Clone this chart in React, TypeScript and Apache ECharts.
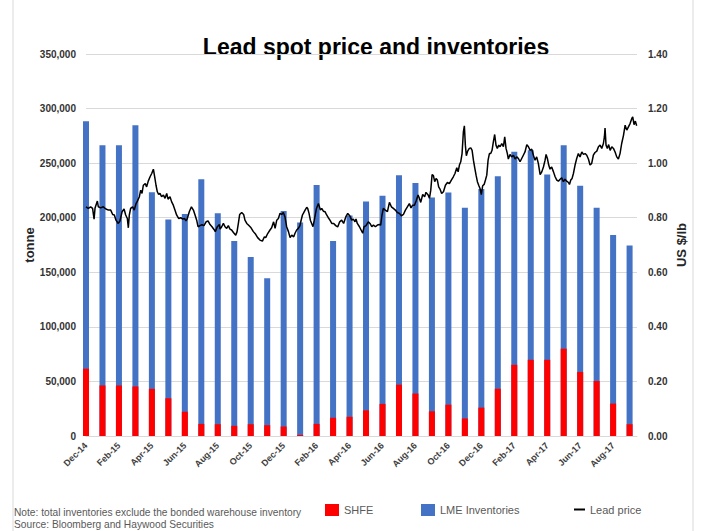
import React, { useEffect, useRef } from 'react';
import * as echarts from 'echarts';

// Monthly bars: Dec-14 .. Sep-17
const barMonths = [
  'Dec-14', 'Jan-15', 'Feb-15', 'Mar-15', 'Apr-15', 'May-15', 'Jun-15', 'Jul-15', 'Aug-15', 'Sep-15',
  'Oct-15', 'Nov-15', 'Dec-15', 'Jan-16', 'Feb-16', 'Mar-16', 'Apr-16', 'May-16', 'Jun-16', 'Jul-16',
  'Aug-16', 'Sep-16', 'Oct-16', 'Nov-16', 'Dec-16', 'Jan-17', 'Feb-17', 'Mar-17', 'Apr-17', 'May-17',
  'Jun-17', 'Jul-17', 'Aug-17', 'Sep-17',
];

// x-axis tick labels (every second month)
const tickLabels = [
  'Dec-14', 'Feb-15', 'Apr-15', 'Jun-15', 'Aug-15', 'Oct-15', 'Dec-15', 'Feb-16', 'Apr-16',
  'Jun-16', 'Aug-16', 'Oct-16', 'Dec-16', 'Feb-17', 'Apr-17', 'Jun-17', 'Aug-17',
];

// SHFE inventories (tonnes)
const shfe = [
  61700, 46300, 46300, 45400, 43200, 34600, 22200, 11100, 10800, 9300,
  10800, 9900, 8700, 1000, 11100, 16700, 17600, 23500, 29400, 47000,
  38900, 22600, 28700, 16100, 26000, 43300, 65200, 69800, 69800, 80000,
  58700, 50400, 29700, 10800,
];

// LME inventories (tonnes)
const lme = [
  226700, 220200, 220200, 239400, 180200, 163800, 181100, 224200, 193400, 169300,
  153200, 134600, 197400, 194700, 218800, 161900, 184400, 191400, 190700, 192000,
  192800, 196000, 194400, 193000, 200200, 194800, 195200, 192100, 169800, 186500,
  170500, 158700, 154400, 163800,
];

// Lead price (US$/lb): [position in months since Dec-14, price]
const leadPrice: [number, number][] = [
  [0, 0.840], [0.14, 0.834], [0.28, 0.840], [0.40, 0.834], [0.49, 0.795], [0.55, 0.836], [0.69, 0.861],
  [0.75, 0.840], [0.89, 0.836], [1.05, 0.840], [1.21, 0.832], [1.36, 0.828], [1.50, 0.828], [1.62, 0.812],
  [1.72, 0.810], [1.82, 0.791], [1.96, 0.779], [2.06, 0.788], [2.19, 0.822], [2.31, 0.832], [2.41, 0.810],
  [2.51, 0.797], [2.57, 0.763], [2.63, 0.810], [2.71, 0.834], [2.83, 0.840], [2.93, 0.828], [3.04, 0.852],
  [3.12, 0.861], [3.24, 0.877], [3.32, 0.901], [3.40, 0.889], [3.48, 0.919], [3.60, 0.925], [3.68, 0.913],
  [3.78, 0.934], [3.89, 0.950], [3.99, 0.962], [4.09, 0.978], [4.17, 0.950], [4.25, 0.919], [4.33, 0.895],
  [4.41, 0.885], [4.49, 0.889], [4.59, 0.877], [4.70, 0.883], [4.80, 0.871], [4.90, 0.889], [4.98, 0.868],
  [5.10, 0.877], [5.20, 0.858], [5.30, 0.846], [5.40, 0.828], [5.50, 0.810], [5.63, 0.797], [5.75, 0.800],
  [5.87, 0.795], [5.99, 0.797], [6.07, 0.788], [6.15, 0.797], [6.27, 0.822], [6.40, 0.840], [6.52, 0.828],
  [6.62, 0.810], [6.72, 0.791], [6.80, 0.767], [6.92, 0.771], [7.04, 0.774], [7.16, 0.771], [7.29, 0.785],
  [7.41, 0.788], [7.53, 0.775], [7.65, 0.767], [7.77, 0.757], [7.85, 0.749], [7.97, 0.767], [8.10, 0.775],
  [8.14, 0.758], [8.24, 0.767], [8.34, 0.779], [8.44, 0.767], [8.54, 0.761], [8.64, 0.771], [8.74, 0.758],
  [8.84, 0.755], [8.95, 0.746], [9.09, 0.736], [9.17, 0.749], [9.25, 0.779], [9.33, 0.812], [9.45, 0.819],
  [9.57, 0.812], [9.65, 0.791], [9.76, 0.779], [9.86, 0.773], [10.02, 0.763], [10.16, 0.749], [10.30, 0.739],
  [10.42, 0.727], [10.56, 0.718], [10.71, 0.714], [10.83, 0.730], [10.91, 0.727], [11.03, 0.742], [11.17, 0.755],
  [11.27, 0.763], [11.39, 0.785], [11.48, 0.761], [11.58, 0.791], [11.68, 0.797], [11.78, 0.816], [11.88, 0.812],
  [11.98, 0.819], [12.08, 0.803], [12.18, 0.767], [12.29, 0.749], [12.39, 0.727], [12.49, 0.736], [12.61, 0.730],
  [12.69, 0.743], [12.79, 0.755], [12.89, 0.761], [12.99, 0.771], [13.05, 0.788], [13.14, 0.810], [13.22, 0.819],
  [13.30, 0.828], [13.40, 0.838], [13.46, 0.834], [13.54, 0.816], [13.62, 0.791], [13.70, 0.779], [13.78, 0.767],
  [13.86, 0.791], [13.99, 0.834], [14.11, 0.852], [14.23, 0.828], [14.31, 0.834], [14.41, 0.824], [14.51, 0.822],
  [14.61, 0.810], [14.71, 0.800], [14.81, 0.791], [14.92, 0.779], [15.04, 0.779], [15.16, 0.771], [15.28, 0.766],
  [15.40, 0.785], [15.52, 0.791], [15.64, 0.779], [15.77, 0.803], [15.89, 0.816], [16.01, 0.807], [16.13, 0.791],
  [16.23, 0.795], [16.33, 0.785], [16.39, 0.795], [16.47, 0.779], [16.60, 0.767], [16.70, 0.755], [16.80, 0.743],
  [16.88, 0.767], [17.00, 0.771], [17.14, 0.785], [17.24, 0.779], [17.35, 0.767], [17.45, 0.773], [17.57, 0.767],
  [17.69, 0.773], [17.81, 0.775], [17.89, 0.773], [17.97, 0.810], [18.05, 0.834], [18.17, 0.828], [18.30, 0.822],
  [18.42, 0.856], [18.54, 0.840], [18.66, 0.834], [18.78, 0.828], [18.90, 0.819], [19.02, 0.816], [19.15, 0.807],
  [19.27, 0.812], [19.39, 0.828], [19.51, 0.840], [19.63, 0.852], [19.73, 0.836], [19.83, 0.846], [19.94, 0.846],
  [20.04, 0.861], [20.16, 0.883], [20.24, 0.871], [20.32, 0.856], [20.44, 0.885], [20.56, 0.877], [20.64, 0.893],
  [20.77, 0.883], [20.85, 0.871], [20.93, 0.901], [21.01, 0.958], [21.09, 0.954], [21.17, 0.932], [21.25, 0.944],
  [21.33, 0.938], [21.41, 0.913], [21.49, 0.905], [21.59, 0.889], [21.70, 0.895], [21.82, 0.919], [21.94, 0.929],
  [22.06, 0.925], [22.18, 0.938], [22.30, 0.950], [22.40, 0.962], [22.51, 0.983], [22.59, 0.968], [22.67, 0.993],
  [22.75, 1.005], [22.83, 1.035], [22.91, 1.115], [22.97, 1.137], [23.03, 1.066], [23.09, 1.027], [23.17, 1.044],
  [23.27, 1.054], [23.36, 1.056], [23.44, 1.047], [23.52, 1.011], [23.60, 0.983], [23.68, 0.956], [23.76, 0.932],
  [23.84, 0.919], [23.92, 0.907], [24.00, 0.885], [24.08, 0.917], [24.17, 0.922], [24.25, 0.938], [24.33, 0.956],
  [24.41, 1.011], [24.49, 1.035], [24.57, 1.035], [24.65, 1.047], [24.73, 1.078], [24.81, 1.105], [24.89, 1.066],
  [24.97, 1.054], [25.06, 1.066], [25.14, 1.060], [25.24, 1.072], [25.34, 1.060], [25.42, 1.096], [25.50, 1.054],
  [25.58, 1.035], [25.64, 1.015], [25.74, 1.032], [25.84, 1.023], [25.95, 1.029], [26.05, 1.015], [26.15, 1.023],
  [26.25, 1.017], [26.35, 1.005], [26.45, 1.017], [26.55, 1.029], [26.65, 1.041], [26.76, 1.068], [26.86, 1.060],
  [26.96, 1.047], [27.06, 1.051], [27.16, 1.029], [27.26, 1.011], [27.36, 1.023], [27.46, 0.999], [27.57, 0.958],
  [27.67, 0.968], [27.77, 0.986], [27.87, 1.011], [27.93, 1.032], [28.01, 1.017], [28.09, 0.993], [28.17, 0.978],
  [28.27, 0.986], [28.38, 0.968], [28.48, 0.950], [28.58, 0.938], [28.68, 0.934], [28.78, 0.941], [28.88, 0.946],
  [28.98, 0.932], [29.08, 0.941], [29.18, 0.934], [29.29, 0.929], [29.35, 0.922], [29.43, 0.938], [29.51, 0.944],
  [29.59, 0.962], [29.69, 0.993], [29.79, 1.017], [29.89, 1.035], [29.99, 1.023], [30.10, 1.041], [30.20, 1.032],
  [30.30, 1.035], [30.40, 1.029], [30.50, 1.015], [30.60, 0.993], [30.70, 0.999], [30.80, 1.029], [30.90, 1.039],
  [31.01, 1.044], [31.11, 1.060], [31.21, 1.066], [31.31, 1.054], [31.41, 1.072], [31.47, 1.096], [31.51, 1.129],
  [31.57, 1.066], [31.65, 1.054], [31.73, 1.068], [31.82, 1.047], [31.92, 1.060], [32.02, 1.054], [32.12, 1.041],
  [32.22, 1.023], [32.32, 1.015], [32.42, 1.035], [32.52, 1.072], [32.63, 1.102], [32.73, 1.139], [32.83, 1.121],
  [32.93, 1.133], [33.03, 1.145], [33.13, 1.163], [33.19, 1.170], [33.27, 1.141], [33.35, 1.154], [33.43, 1.137],
];

const FONT = '"Liberation Sans", Arial, sans-serif';

export default function App() {
  const ref = useRef<HTMLDivElement>(null);

  useEffect(() => {
    if (!ref.current) return;
    const chart = echarts.init(ref.current, null, { renderer: 'svg' });

    const totals = barMonths.map((_, i) => [i, shfe[i] + lme[i]]);
    const shfeData = barMonths.map((_, i) => [i, shfe[i]]);

    const legendText = { color: '#595959', fontSize: 11, fontFamily: FONT };

    chart.setOption({
      animation: false,
      backgroundColor: '#ffffff',
      textStyle: { fontFamily: FONT },
      grid: { left: 86, right: 64, top: 54, bottom: 95, outerBoundsMode: 'none' },
      legend: [
        {
          data: ['SHFE'], left: 320, top: 499, itemWidth: 14, itemHeight: 12, icon: 'rect',
          textStyle: legendText,
        },
        {
          data: ['LME Inventories'], left: 416, top: 499, itemWidth: 14, itemHeight: 12, icon: 'rect',
          textStyle: legendText,
        },
        {
          data: ['Lead price'], left: 569, top: 499, itemWidth: 11, itemHeight: 2, icon: 'rect',
          textStyle: legendText,
        },
      ],
      xAxis: {
        type: 'value',
        min: 0,
        max: 33.45,
        interval: 2,
        splitLine: { show: false },
        axisLine: { show: true, lineStyle: { color: '#d9d9d9', width: 1 } },
        axisTick: { show: false },
        axisLabel: {
          rotate: 45,
          margin: 8,
          fontSize: 9,
          fontWeight: 'bold',
          color: '#404040',
          fontFamily: FONT,
          showMaxLabel: false,
          formatter: (v: number) =>
            Number.isInteger(v) && v % 2 === 0 && tickLabels[v / 2] ? tickLabels[v / 2] : '',
        },
      },
      yAxis: [
        {
          type: 'value',
          min: 0,
          max: 350000,
          interval: 50000,
          name: 'tonne',
          nameLocation: 'middle',
          nameGap: 50,
          nameMoveOverlap: false,
          nameTextStyle: { fontSize: 13, fontWeight: 'bold', color: '#262626', fontFamily: FONT },
          axisLine: { show: false },
          axisTick: { show: false },
          splitLine: { lineStyle: { color: '#d9d9d9', width: 1 } },
          axisLabel: {
            margin: 10,
            fontSize: 10,
            fontWeight: 'bold',
            color: '#333333',
            fontFamily: FONT,
            formatter: (v: number) => v.toLocaleString('en-US'),
          },
        },
        {
          type: 'value',
          min: 0,
          max: 1.4,
          interval: 0.2,
          name: 'US $/lb',
          nameLocation: 'middle',
          nameGap: 38,
          nameMoveOverlap: false,
          nameTextStyle: { fontSize: 13, fontWeight: 'bold', color: '#262626', fontFamily: FONT },
          axisLine: { show: false },
          axisTick: { show: false },
          splitLine: { show: false },
          axisLabel: {
            margin: 11,
            fontSize: 10,
            fontWeight: 'bold',
            color: '#333333',
            fontFamily: FONT,
            formatter: (v: number) => v.toFixed(2),
          },
        },
      ],
      series: [
        {
          name: 'LME Inventories',
          type: 'bar',
          data: totals,
          barWidth: 6,
          barGap: '-100%',
          itemStyle: { color: '#4472C4' },
          clip: true,
        },
        {
          name: 'SHFE',
          type: 'bar',
          data: shfeData,
          barWidth: 6,
          barGap: '-100%',
          itemStyle: { color: '#FF0000' },
          clip: true,
        },
        {
          name: 'Lead price',
          type: 'line',
          yAxisIndex: 1,
          data: leadPrice,
          symbol: 'none',
          lineStyle: { color: '#000000', width: 1.5 },
          itemStyle: { color: '#000000' },
          clip: true,
        },
      ],
      graphic: [
        {
          type: 'rect',
          shape: { x: 13, y: -5, width: 680, height: 545 },
          style: { fill: 'none', stroke: '#d9d9d9', lineWidth: 1 },
          silent: true,
        },
        {
          type: 'text',
          x: 376,
          y: 47,
          style: {
            text: 'Lead spot price and inventories',
            align: 'center',
            verticalAlign: 'middle',
            font: `bold 23px ${FONT}`,
            fill: '#000000',
          },
        },
        {
          type: 'text',
          x: 14,
          y: 512,
          style: {
            text: 'Note: total inventories exclude the bonded warehouse inventory',
            verticalAlign: 'middle',
            font: `10.2px ${FONT}`,
            fill: '#595959',
          },
        },
        {
          type: 'text',
          x: 14,
          y: 524,
          style: {
            text: 'Source: Bloomberg and Haywood Securities',
            verticalAlign: 'middle',
            font: `10.2px ${FONT}`,
            fill: '#595959',
          },
        },
      ],
    });

    return () => chart.dispose();
  }, []);

  return (
    <div
      ref={ref}
      style={{ position: 'fixed', left: 0, top: 0, width: 701, height: 531, background: '#fff' }}
    />
  );
}
